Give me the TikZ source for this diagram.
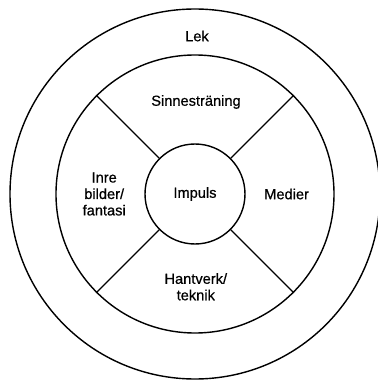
\documentclass[tikz,border=0pt]{standalone}
\usepackage{fontspec}
\setmainfont{Liberation Sans}
\newfontfamily\lblfont{Liberation Sans}[BoldFont=Liberation Sans, BoldFeatures={FakeBold=0.6}]
\begin{document}
\begin{tikzpicture}[line width=1pt,
  ring/.style={draw, circle, inner sep=0pt},
  lbl/.style={align=center, font=\lblfont\bfseries\fontsize{10.4}{11.7}\selectfont}]
\useasboundingbox (-4.875,-4.675) rectangle (4.575,4.85);
\node[ring, minimum size=9.25cm] (lek) at (0,0) {};
\node[ring, minimum size=6.95cm] (mitt) at (0,0) {};
\node[ring, minimum size=2.5cm, lbl] (impuls) at (0,0) {Impuls};
\draw (impuls.45) -- (mitt.45);
\draw (impuls.135) -- (mitt.135);
\draw (impuls.225) -- (mitt.225);
\draw (impuls.315) -- (mitt.315);
\node[lbl] (leklbl) at (0.05,3.95) {Lek};
\node[lbl] (sinne) at (0.025,2.3) {Sinnesträning};
\node[lbl] (medier) at (2.29,0) {Medier};
\node[lbl] (inre) at (-2.27,0) {Inre\\bilder/\\fantasi};
\node[lbl] (hantverk) at (0.02,-2.32) {Hantverk/\\teknik};
\end{tikzpicture}
\end{document}
